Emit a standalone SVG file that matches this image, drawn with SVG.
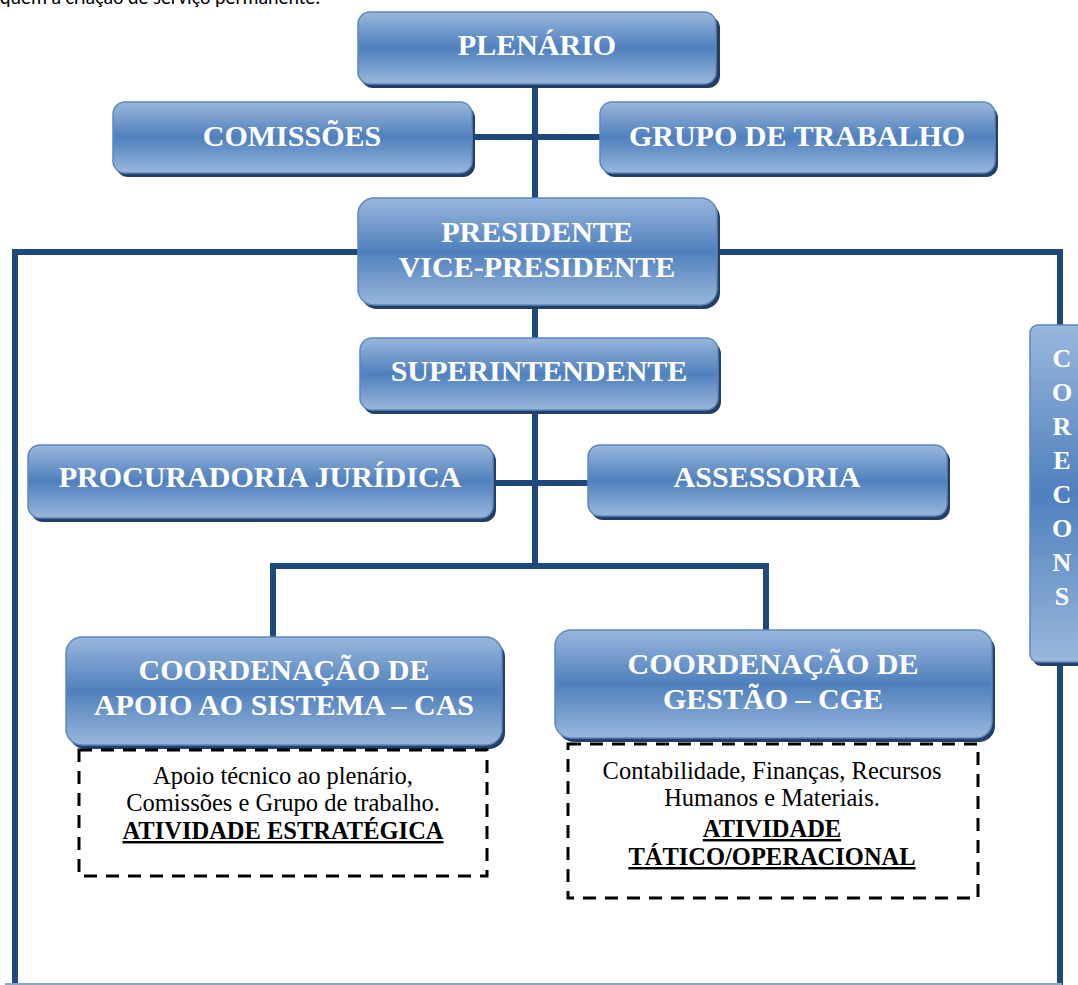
<svg xmlns="http://www.w3.org/2000/svg" width="1078" height="985" viewBox="0 0 1078 985">
<defs>
<linearGradient id="g" x1="0" y1="0" x2="0" y2="1">
<stop offset="0" stop-color="#9ab7dc"/>
<stop offset="0.5" stop-color="#4f80bd"/>
<stop offset="1" stop-color="#9ab7dc"/>
</linearGradient>
</defs>
<style>
.sh{fill:#243f63}
.bx{fill:url(#g);stroke:#5b88c0;stroke-width:1.5}
.t{font-family:"Liberation Serif","Times New Roman",serif;font-weight:bold;font-size:30px;fill:#ffffff;text-anchor:middle}
.c{stroke:#1f497d;stroke-width:6;fill:none}
.d{fill:#ffffff;stroke:#000000;stroke-width:3;stroke-dasharray:13 9}
.n{font-family:"Liberation Serif","Times New Roman",serif;font-size:24.5px;fill:#000000;text-anchor:middle}
.b{font-family:"Liberation Serif","Times New Roman",serif;font-size:24.5px;font-weight:bold;fill:#000000;text-anchor:middle;text-decoration:underline}
</style>
<rect width="1078" height="985" fill="#ffffff"/>
<text x="0" y="4" font-family="Carlito,'Liberation Sans',sans-serif" font-size="20" fill="#000000">quem a criação de serviço permanente.</text>
<g id="connectors">
<path class="c" d="M535 85 V566"/>
<path class="c" d="M472 137 H600"/>
<path class="c" d="M490 483 H588"/>
<path class="c" d="M273 640 V566 H766 V632"/>
<path class="c" d="M358 252 H15 V985"/>
<path class="c" d="M717 252 H1060 V325"/>
<path class="c" d="M1060 662 V985"/>
<line x1="5" y1="984" x2="1062" y2="984" stroke="#8aa6c9" stroke-width="2"/>
</g>
<g id="plenario">
<rect class="sh" x="361" y="16" width="359" height="72" rx="12"/>
<rect class="bx" x="358" y="12" width="358" height="72" rx="12"/>
<text class="t" x="537" y="55">PLENÁRIO</text>
</g>
<g id="comissoes">
<rect class="sh" x="116" y="106" width="359" height="71" rx="12"/>
<rect class="bx" x="113" y="102" width="359" height="71" rx="12"/>
<text class="t" x="292" y="146">COMISSÕES</text>
</g>
<g id="grupo">
<rect class="sh" x="603" y="106" width="395" height="71" rx="12"/>
<rect class="bx" x="600" y="102" width="395" height="71" rx="12"/>
<text class="t" x="797" y="146">GRUPO DE TRABALHO</text>
</g>
<g id="presidente">
<rect class="sh" x="361" y="202" width="359" height="107" rx="16"/>
<rect class="bx" x="358" y="198" width="359" height="107" rx="16"/>
<text class="t" x="537" y="242">PRESIDENTE</text>
<text class="t" x="537" y="277">VICE-PRESIDENTE</text>
</g>
<g id="superintendente">
<rect class="sh" x="363" y="342" width="358" height="72" rx="12"/>
<rect class="bx" x="360" y="338" width="358" height="72" rx="12"/>
<text class="t" x="539" y="381">SUPERINTENDENTE</text>
</g>
<g id="procuradoria">
<rect class="sh" x="31" y="449" width="465" height="73" rx="12"/>
<rect class="bx" x="28" y="445" width="465" height="73" rx="12"/>
<text class="t" x="260" y="487">PROCURADORIA JURÍDICA</text>
</g>
<g id="assessoria">
<rect class="sh" x="591" y="449" width="359" height="71" rx="12"/>
<rect class="bx" x="588" y="445" width="359" height="71" rx="12"/>
<text class="t" x="767" y="487">ASSESSORIA</text>
</g>
<g id="cas">
<rect class="sh" x="69" y="641" width="436" height="108" rx="16"/>
<rect class="bx" x="66" y="637" width="436" height="108" rx="16"/>
<text class="t" x="284" y="680">COORDENAÇÃO DE</text>
<text class="t" x="284" y="715">APOIO AO SISTEMA – CAS</text>
</g>
<g id="cas-desc">
<rect class="d" x="79" y="750" width="408" height="126"/>
<text class="n" x="283" y="784">Apoio técnico ao plenário,</text>
<text class="n" x="283" y="811">Comissões e Grupo de trabalho.</text>
<text class="b" x="283" y="839">ATIVIDADE ESTRATÉGICA</text>
</g>
<g id="cge">
<rect class="sh" x="558" y="634" width="437" height="108" rx="16"/>
<rect class="bx" x="555" y="630" width="437" height="108" rx="16"/>
<text class="t" x="773" y="674">COORDENAÇÃO DE</text>
<text class="t" x="773" y="709">GESTÃO – CGE</text>
</g>
<g id="cge-desc">
<rect class="d" x="568" y="744" width="410" height="154"/>
<text class="n" x="772" y="779">Contabilidade, Finanças, Recursos</text>
<text class="n" x="772" y="806">Humanos e Materiais.</text>
<text class="b" x="772" y="837">ATIVIDADE</text>
<text class="b" x="772" y="865">TÁTICO/OPERACIONAL</text>
</g>
<g id="corecons">
<rect class="sh" x="1033" y="329" width="60" height="337" rx="8"/>
<rect class="bx" x="1030" y="325" width="60" height="337" rx="8"/>
<g class="t" style="font-size:26px">
<text x="1062" y="367">C</text>
<text x="1062" y="401">O</text>
<text x="1062" y="435">R</text>
<text x="1062" y="469">E</text>
<text x="1062" y="503">C</text>
<text x="1062" y="537">O</text>
<text x="1062" y="571">N</text>
<text x="1062" y="605">S</text>
</g>
</g>
</svg>
